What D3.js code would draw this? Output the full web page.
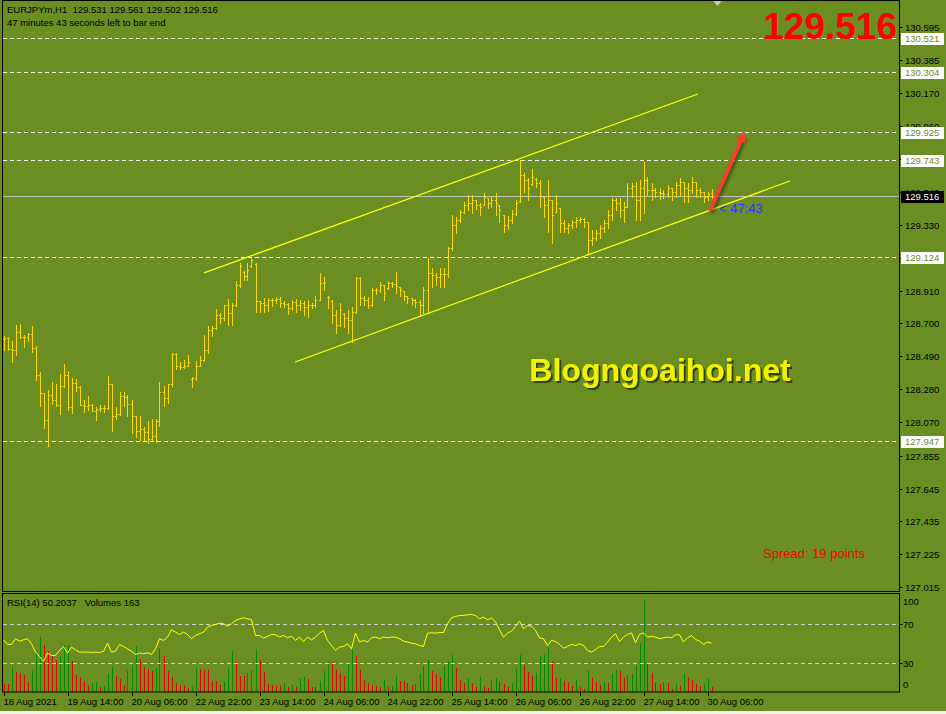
<!DOCTYPE html>
<html>
<head>
<meta charset="utf-8">
<script src="https://cdn.jsdelivr.net/npm/d3@7"></script>
<style>
  html, body { margin: 0; padding: 0; background: #f0f0f0; }
  svg { display: block; }
  text { font-family: Tahoma, "Liberation Sans", Arial, sans-serif; }
</style>
</head>
<body>
<div id="chart"></div>
<script>
// EURJPYm H1 bars (oldest first)
const opens = [128.600,128.607,128.537,128.531,128.645,128.614,128.614,128.633,128.543,128.371,
  128.256,128.083,128.243,128.211,128.179,128.301,128.371,128.166,128.320,128.294,
  128.179,128.173,128.179,128.141,128.153,128.160,128.160,128.313,128.109,128.121,
  128.237,128.230,128.185,128.109,128.013,128.026,128.006,127.962,127.981,128.077,
  128.262,128.224,128.313,128.505,128.428,128.422,128.428,128.345,128.352,128.428,
  128.467,128.531,128.658,128.671,128.754,128.735,128.818,128.767,128.818,128.946,
  129.030,129.003,129.065,129.080,128.844,128.831,128.818,128.850,128.850,128.856,
  128.831,128.824,128.799,128.837,128.818,128.831,128.805,128.818,128.818,128.850,
  128.958,128.870,128.845,128.754,128.690,128.760,128.735,128.722,128.773,128.991,
  128.863,128.850,128.818,128.914,128.914,128.946,128.925,128.958,128.952,128.930,
  128.905,128.876,128.863,128.850,128.837,128.818,128.914,129.022,129.010,128.997,
  129.016,129.016,129.182,129.329,129.361,129.412,129.457,129.470,129.489,129.457,
  129.460,129.500,129.470,129.489,129.455,129.390,129.329,129.361,129.399,129.480,
  129.649,129.617,129.590,129.625,129.598,129.505,129.457,129.489,129.415,129.435,
  129.342,129.310,129.329,129.348,129.361,129.367,129.348,129.234,129.246,129.278,
  129.310,129.342,129.393,129.489,129.470,129.425,129.444,129.566,129.579,129.489,
  129.566,129.617,129.553,129.553,129.540,129.534,129.527,129.566,129.540,129.585,
  129.604,129.566,129.553,129.604,129.553,129.540,129.508,129.531];
const highs = [128.620,128.614,128.588,128.690,128.697,128.626,128.639,128.684,128.556,128.390,
  128.256,128.275,128.326,128.313,128.377,128.441,128.396,128.352,128.345,128.301,
  128.211,128.237,128.185,128.166,128.179,128.179,128.364,128.313,128.166,128.262,
  128.262,128.243,128.211,128.109,128.109,128.038,128.077,128.090,128.090,128.326,
  128.301,128.313,128.511,128.511,128.454,128.467,128.499,128.358,128.460,128.492,
  128.626,128.684,128.684,128.792,128.767,128.818,128.856,128.831,128.971,129.086,
  129.036,129.086,129.119,129.086,128.844,128.863,128.863,128.863,128.869,128.869,
  128.844,128.831,128.850,128.856,128.850,128.844,128.850,128.831,128.876,129.022,
  128.997,128.876,128.850,128.786,128.831,128.767,128.786,128.805,128.997,128.997,
  128.876,128.869,128.927,128.927,128.965,128.946,128.971,128.965,129.029,128.933,
  128.908,128.876,128.863,128.856,128.850,128.933,129.119,129.055,129.022,129.055,
  129.055,129.189,129.393,129.380,129.425,129.476,129.521,129.521,129.489,129.470,
  129.534,129.502,129.508,129.534,129.457,129.393,129.387,129.425,129.489,129.743,
  129.662,129.630,129.687,129.630,129.617,129.508,129.617,129.489,129.521,129.438,
  129.361,129.342,129.361,129.380,129.380,129.374,129.348,129.297,129.297,129.329,
  129.361,129.425,129.502,129.502,129.502,129.476,129.598,129.598,129.604,129.617,
  129.732,129.636,129.598,129.566,129.566,129.553,129.585,129.566,129.604,129.630,
  129.604,129.598,129.636,129.604,129.566,129.540,129.540,129.561];
const lows = [128.531,128.531,128.454,128.499,128.607,128.550,128.588,128.518,128.339,128.173,
  128.032,127.917,128.185,128.173,128.121,128.294,128.147,128.128,128.269,128.179,
  128.134,128.147,128.141,128.083,128.141,128.134,128.153,128.013,128.090,128.115,
  128.173,128.109,128.000,127.975,127.955,127.955,127.936,127.955,127.943,128.045,
  128.173,128.192,128.301,128.409,128.409,128.415,128.428,128.294,128.339,128.428,
  128.460,128.511,128.620,128.665,128.703,128.722,128.690,128.690,128.812,128.933,
  128.978,128.978,129.061,128.773,128.773,128.773,128.780,128.812,128.831,128.805,
  128.805,128.761,128.786,128.773,128.786,128.754,128.741,128.799,128.805,128.856,
  128.914,128.799,128.703,128.640,128.684,128.678,128.640,128.582,128.767,128.818,
  128.818,128.799,128.812,128.888,128.901,128.850,128.920,128.933,128.895,128.876,
  128.850,128.831,128.818,128.805,128.754,128.767,128.767,128.933,128.946,128.933,
  128.933,128.997,129.170,129.278,129.348,129.406,129.425,129.406,129.431,129.393,
  129.457,129.438,129.444,129.393,129.348,129.284,129.304,129.342,129.393,129.476,
  129.540,129.489,129.585,129.572,129.444,129.380,129.284,129.214,129.412,129.284,
  129.284,129.278,129.310,129.316,129.348,129.316,129.144,129.201,129.234,129.246,
  129.284,129.310,129.361,129.425,129.380,129.348,129.444,129.508,129.361,129.361,
  129.406,129.521,129.489,129.508,129.496,129.502,129.508,129.489,129.508,129.521,
  129.476,129.476,129.534,129.508,129.508,129.476,129.489,129.502];
const closes = [128.607,128.537,128.531,128.645,128.614,128.614,128.633,128.543,128.371,128.256,
  128.083,128.243,128.211,128.179,128.301,128.371,128.166,128.320,128.294,128.179,
  128.173,128.179,128.141,128.153,128.160,128.160,128.313,128.109,128.121,128.237,
  128.230,128.185,128.109,128.013,128.026,128.006,127.962,127.981,128.077,128.262,
  128.224,128.313,128.505,128.428,128.422,128.428,128.454,128.352,128.428,128.467,
  128.531,128.658,128.671,128.754,128.735,128.818,128.767,128.818,128.946,129.067,
  129.003,129.042,129.106,128.844,128.831,128.818,128.850,128.850,128.856,128.831,
  128.824,128.799,128.837,128.818,128.831,128.805,128.818,128.818,128.850,128.958,
  128.965,128.869,128.754,128.690,128.786,128.735,128.722,128.773,128.991,128.863,
  128.850,128.818,128.914,128.914,128.946,128.895,128.958,128.952,128.940,128.914,
  128.876,128.863,128.850,128.837,128.818,128.914,129.022,129.010,128.997,129.016,
  129.016,129.182,129.329,129.361,129.412,129.457,129.470,129.489,129.457,129.444,
  129.508,129.470,129.489,129.470,129.425,129.329,129.361,129.399,129.470,129.649,
  129.617,129.566,129.636,129.598,129.521,129.457,129.489,129.393,129.470,129.342,
  129.310,129.329,129.348,129.361,129.367,129.348,129.234,129.246,129.278,129.310,
  129.342,129.393,129.489,129.470,129.425,129.444,129.566,129.579,129.489,129.566,
  129.617,129.553,129.553,129.540,129.534,129.527,129.566,129.540,129.585,129.604,
  129.566,129.553,129.604,129.553,129.540,129.508,129.527,129.516];

// RSI(14) and tick volumes, same bars
const rsi = [53.6,48.8,48.8,54.6,52.2,53.6,54.6,49.4,40.9,36.4,
  31.5,39.9,37.5,37.5,42.6,46.7,39.9,46.0,43.3,40.9,
  40.9,40.9,40.6,40.9,40.6,41.6,50.1,40.9,41.9,48.8,
  46.7,44.3,41.9,38.5,39.9,39.2,40.2,38.5,44.3,54.6,
  52.9,56.3,63.8,61.4,59.0,61.4,59.0,54.6,58.0,59.7,
  61.4,66.5,68.2,69.3,70.6,70.0,67.6,70.0,73.4,75.1,
  76.1,75.1,74.1,58.0,58.0,55.3,57.0,59.0,58.7,56.3,
  58.0,55.6,57.3,52.9,56.3,51.8,56.3,53.5,56.3,60.4,
  63.1,52.9,47.7,42.6,46.0,46.7,49.4,44.3,60.4,51.2,
  52.9,51.2,55.6,56.3,54.6,56.3,55.6,56.3,56.3,54.6,
  52.2,51.2,50.1,49.4,47.7,46.7,60.4,60.7,60.4,61.0,
  61.0,70.0,76.1,77.5,78.5,78.5,79.2,79.5,78.5,75.1,
  76.8,74.1,76.1,71.7,63.8,56.3,60.4,62.4,67.2,72.7,
  64.8,68.2,67.6,63.1,55.6,54.6,47.7,52.9,51.8,48.8,
  45.0,46.7,48.8,47.7,49.4,47.7,42.6,40.9,43.6,46.7,
  46.7,51.2,56.3,59.7,51.8,56.3,59.0,60.7,50.5,59.0,
  60.7,56.3,57.0,56.3,54.6,55.6,56.3,55.6,58.7,58.7,
  51.2,55.6,58.0,53.9,52.2,48.8,51.2,50.2];
const volumes = [256,250,789,650,618,544,330,682,1290,1770,
  1504,1322,1152,1045,1152,1504,1510,1002,544,469,
  362,192,277,330,170,180,576,789,512,405,
  224,672,864,1472,1056,789,725,682,757,1429,
  1152,682,469,277,224,220,130,150,760,740,
  720,710,362,355,224,330,757,1312,970,512,
  500,618,704,1397,1045,650,256,224,192,185,
  277,170,224,149,437,480,430,170,149,362,
  672,1002,970,704,597,512,896,1376,1152,704,
  384,298,224,192,149,384,149,192,512,362,
  355,277,224,256,576,832,1045,682,576,469,
  832,1002,1184,757,384,298,437,298,170,469,
  191,117,383,437,330,256,149,277,736,1184,
  864,650,512,597,1152,1184,1450,1002,437,447,
  362,320,192,384,170,95,704,458,330,224,
  320,288,576,704,672,458,544,576,832,1589,
  2944,938,597,288,256,320,288,95,256,192,
  576,469,384,256,192,256,447,163];

// Time axis labels every 16 bars
const timeTickBars = [0,16,32,48,64,80,96,112,128,144,160,176];
const timeTickLabels = ["18 Aug 2021","19 Aug 14:00","20 Aug 06:00","22 Aug 22:00","23 Aug 14:00","24 Aug 06:00",
  "24 Aug 22:00","25 Aug 14:00","26 Aug 06:00","26 Aug 22:00","27 Aug 14:00","30 Aug 06:00"];

// Price axis ticks and horizontal levels
const priceTicks = [130.595,130.385,130.170,129.960,129.750,129.540,129.330,129.120,128.910,
  128.700,128.490,128.280,128.070,127.855,127.645,127.435,127.225,127.015];
const levels = [130.521,130.304,129.925,129.743,129.124,127.947];
const bidPrice = 129.516;
const rsiLevels = [70,30];
const rsiTicks = [100,70,30,0];

// Channel trendlines [bar, price] and the forecast arrow
const channelUpper = [[50.1,129.023],[173.6,130.166]];
const channelLower = [[72.9,128.454],[196.6,129.610]];
const arrowPts = [[176.6,129.419],[184.9,129.898]];

const width = 946, height = 714;
const axisX = 899.5;

const svg = d3.select("#chart")
  .append("svg")
    .attr("width", width)
    .attr("height", height);

svg.append("rect")
  .attr("width", width).attr("height", 711)
  .attr("fill", "#6b8e23");

// Scales
const x = d3.scaleLinear().domain([0, 177]).range([3.5, 711.5]);
const y = d3.scaleLinear().domain([126.984, 130.754]).range([592, 2]);
const yRsi = d3.scaleLinear().domain([0, 100]).range([692, 594.5]);
const yVol = d3.scaleLinear().domain([0, d3.max(volumes) * 1.065]).range([692, 594.5]);

const defs = svg.append("defs");
defs.append("clipPath").attr("id", "mainClip")
  .append("rect").attr("x", 3).attr("y", 1).attr("width", axisX - 3.5).attr("height", 590.5);
defs.append("clipPath").attr("id", "rsiClip")
  .append("rect").attr("x", 3).attr("y", 594).attr("width", axisX - 3.5).attr("height", 97.5);
defs.append("filter").attr("id", "blur")
  .append("feGaussianBlur").attr("stdDeviation", 1.5);
defs.append("filter").attr("id", "textShadow")
  .append("feDropShadow")
    .attr("dx", 2).attr("dy", 2).attr("stdDeviation", 0.6)
    .attr("flood-color", "#26300a").attr("flood-opacity", 0.85);
defs.append("marker")
  .attr("id", "arrowHead")
  .attr("viewBox", "0 0 10 10")
  .attr("refX", 6).attr("refY", 5)
  .attr("markerWidth", 3).attr("markerHeight", 3)
  .attr("orient", "auto")
  .append("path").attr("d", "M0,0L10,5L0,10Z").attr("fill", "#ff3b30");

const main = svg.append("g").attr("clip-path", "url(#mainClip)");

// Dashed horizontal levels
main.selectAll(".level")
  .data(levels)
  .enter().append("line")
    .attr("x1", 3).attr("x2", axisX)
    .attr("y1", d => Math.round(y(d)) + 0.5).attr("y2", d => Math.round(y(d)) + 0.5)
    .attr("stroke", "#ffffff")
    .attr("stroke-dasharray", "4,3");

// Bid line
main.append("line")
  .attr("x1", 3).attr("x2", axisX)
  .attr("y1", Math.round(y(bidPrice)) + 0.5).attr("y2", Math.round(y(bidPrice)) + 0.5)
  .attr("stroke", "#c0c0c0");

// OHLC bars
const bars = main.append("g")
  .attr("stroke", "#ffd700")
  .attr("shape-rendering", "crispEdges");
closes.forEach((c, i) => {
  const xi = Math.round(x(i)) + 0.5;
  bars.append("line")
    .attr("x1", xi).attr("x2", xi)
    .attr("y1", Math.round(y(highs[i]))).attr("y2", Math.round(y(lows[i])) + 1);
  bars.append("line")
    .attr("x1", xi - 1.5).attr("x2", xi)
    .attr("y1", Math.round(y(opens[i])) + 0.5).attr("y2", Math.round(y(opens[i])) + 0.5);
  bars.append("line")
    .attr("x1", xi).attr("x2", xi + 1.5)
    .attr("y1", Math.round(y(c)) + 0.5).attr("y2", Math.round(y(c)) + 0.5);
});

// Channel
[channelUpper, channelLower].forEach(pts => {
  main.append("line")
    .attr("x1", x(pts[0][0])).attr("y1", y(pts[0][1]))
    .attr("x2", x(pts[1][0])).attr("y2", y(pts[1][1]))
    .attr("stroke", "#ffff00")
    .attr("stroke-width", 1.2);
});

// Forecast arrow with soft shadow
main.append("line")
  .attr("x1", x(arrowPts[0][0]) + 2).attr("y1", y(arrowPts[0][1]) + 2)
  .attr("x2", x(arrowPts[1][0]) + 2).attr("y2", y(arrowPts[1][1]) + 2)
  .attr("stroke", "rgba(30,40,10,0.55)")
  .attr("stroke-width", 4)
  .attr("filter", "url(#blur)");
main.append("line")
  .attr("x1", x(arrowPts[0][0])).attr("y1", y(arrowPts[0][1]))
  .attr("x2", x(arrowPts[1][0])).attr("y2", y(arrowPts[1][1]))
  .attr("stroke", "#ff3b30")
  .attr("stroke-width", 3.5)
  .attr("marker-end", "url(#arrowHead)");

// Bar timer
main.append("text")
  .attr("x", x(178.9)).attr("y", y(129.404))
  .attr("fill", "#1e3cff")
  .style("font-size", "13px")
  .style("font-family", "'Liberation Sans', Arial, sans-serif")
  .text("< 47:43");

// Watermark
svg.append("text")
  .attr("x", 660).attr("y", 381)
  .attr("text-anchor", "middle")
  .attr("fill", "#f2f200")
  .attr("filter", "url(#textShadow)")
  .style("font-family", "'Liberation Sans', Arial, sans-serif")
  .style("font-weight", "bold")
  .style("font-size", "32px")
  .text("Blogngoaihoi.net");

svg.append("text")
  .attr("x", 763).attr("y", 558)
  .attr("fill", "#ff0000")
  .style("font-size", "13px")
  .style("font-family", "'Liberation Sans', Arial, sans-serif")
  .text("Spread: 19 points");

// Big last price
svg.append("text")
  .attr("x", 897).attr("y", 39)
  .attr("text-anchor", "end")
  .attr("fill", "#ff0000")
  .style("font-family", "'Liberation Sans', Arial, sans-serif")
  .style("font-weight", "bold")
  .style("font-size", "37px")
  .text(d3.format(".3f")(bidPrice));

// Chart shift marker
svg.append("path")
  .attr("d", `M${x(178.5) - 4},1L${x(178.5) + 4},1L${x(178.5)},6Z`)
  .attr("fill", "#c8c8c8");

// RSI window
const rsiG = svg.append("g").attr("clip-path", "url(#rsiClip)");
rsiG.selectAll(".vol")
  .data(volumes)
  .enter().append("line")
    .attr("x1", (d, i) => Math.round(x(i)) + 0.5)
    .attr("x2", (d, i) => Math.round(x(i)) + 0.5)
    .attr("y1", yVol(0))
    .attr("y2", d => Math.round(yVol(d)))
    .attr("stroke", (d, i) => i > 0 && d > volumes[i - 1] ? "#008c00" : "#e60000")
    .attr("shape-rendering", "crispEdges");
rsiG.selectAll(".rlevel")
  .data(rsiLevels)
  .enter().append("line")
    .attr("x1", 3).attr("x2", axisX)
    .attr("y1", d => Math.round(yRsi(d)) + 0.5).attr("y2", d => Math.round(yRsi(d)) + 0.5)
    .attr("stroke", "#d0d0d0")
    .attr("stroke-dasharray", "4,3");
rsiG.append("path")
  .datum(rsi)
  .attr("d", d3.line().x((d, i) => x(i)).y(d => yRsi(d)))
  .attr("fill", "none")
  .attr("stroke", "#ffff00")
  .attr("stroke-width", 1);

// Frames
svg.append("rect")
  .attr("x", 2.5).attr("y", 0.5).attr("width", axisX - 2.5).attr("height", 591)
  .attr("fill", "none").attr("stroke", "#000");
svg.append("rect")
  .attr("x", 2.5).attr("y", 593.5).attr("width", axisX - 2.5).attr("height", 98.5)
  .attr("fill", "none").attr("stroke", "#000");

// Price axis
const axisFont = "9.5px";
const pa = svg.append("g").style("font-size", axisFont);
priceTicks.forEach(p => {
  const yy = Math.round(y(p)) + 0.5;
  pa.append("line").attr("x1", axisX).attr("x2", axisX + 3).attr("y1", yy).attr("y2", yy).attr("stroke", "#000");
  pa.append("text").attr("x", 905).attr("y", yy).attr("dy", "0.35em").attr("fill", "#000").text(d3.format(".3f")(p));
});

// Level labels
levels.forEach(l => {
  const yy = Math.round(y(l));
  pa.append("rect").attr("x", 901).attr("y", yy - 5).attr("width", 43).attr("height", 12).attr("fill", "#fff");
  pa.append("text").attr("x", 905).attr("y", yy + 1).attr("dy", "0.35em").attr("fill", "#6b8e23").text(d3.format(".3f")(l));
});
const yb = Math.round(y(bidPrice));
pa.append("rect").attr("x", 901).attr("y", yb - 5).attr("width", 43).attr("height", 12).attr("fill", "#000");
pa.append("text").attr("x", 905).attr("y", yb + 1).attr("dy", "0.35em").attr("fill", "#fff").text(d3.format(".3f")(bidPrice));

// RSI axis
rsiTicks.forEach(v => {
  const yy = Math.round(Math.min(684, Math.max(601, yRsi(v)))) + 0.5;
  if (v === 70 || v === 30) {
    pa.append("line").attr("x1", axisX).attr("x2", axisX + 3).attr("y1", yy).attr("y2", yy).attr("stroke", "#000");
  }
  pa.append("text").attr("x", 903).attr("y", yy).attr("dy", "0.35em").attr("fill", "#000").text(v);
});

// Time axis
const ta = svg.append("g").style("font-size", axisFont);
timeTickBars.forEach((b, k) => {
  const xx = Math.round(x(b)) + 0.5;
  ta.append("line").attr("x1", xx).attr("x2", xx).attr("y1", 692).attr("y2", 696).attr("stroke", "#000");
  ta.append("text").attr("x", xx - 1).attr("y", 705).attr("fill", "#000").text(timeTickLabels[k]);
});

// Window captions
const cap = svg.append("g").style("font-size", axisFont).attr("fill", "#000");
cap.append("text").attr("x", 7).attr("y", 13)
  .style("white-space", "pre")
  .text(`EURJPYm,H1  ${d3.format(".3f")(opens[177])} ${d3.format(".3f")(highs[177])} ${d3.format(".3f")(lows[177])} ${d3.format(".3f")(closes[177])}`);
cap.append("text").attr("x", 7).attr("y", 26).text("47 minutes 43 seconds left to bar end");
cap.append("text").attr("x", 7).attr("y", 606)
  .style("white-space", "pre")
  .text(`RSI(14) ${d3.format(".4f")(50.2037)}   Volumes ${volumes[volumes.length - 1]}`);
</script>
</body>
</html>
